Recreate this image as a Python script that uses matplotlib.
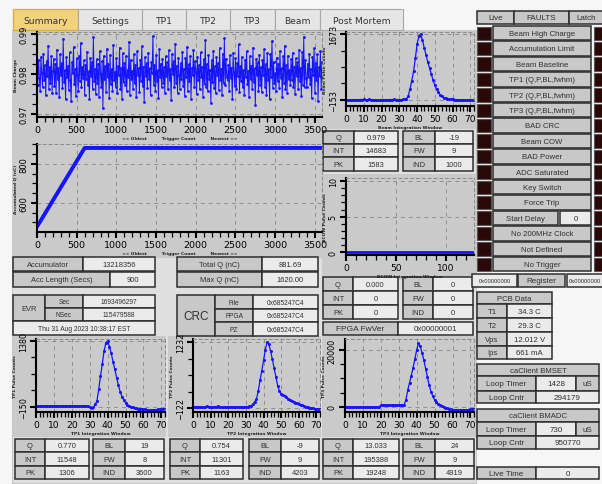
import numpy as np
import matplotlib
matplotlib.use("Agg")
import matplotlib.pyplot as plt
from matplotlib.patches import Rectangle
from matplotlib.ticker import MultipleLocator, FixedLocator

# ---------------- data ----------------
tab_labels = ["Summary", "Settings", "TP1", "TP2", "TP3", "Beam", "Post Mortem"]

beam_charge = [
    0.9812, 0.9774, 0.9836, 0.9791, 0.9758, 0.9843, 0.9802, 0.9769, 0.9851, 0.9785, 0.9822, 0.9748, 0.9833, 0.9796, 0.9871, 0.9763, 0.9818, 0.9779, 0.9845, 0.9754,
    0.9807, 0.9838, 0.9771, 0.9826, 0.9752, 0.9861, 0.9789, 0.9815, 0.9742, 0.9849, 0.9797, 0.9828, 0.9766, 0.9887, 0.9781, 0.9809, 0.9737, 0.9842, 0.9793, 0.9819,
    0.9761, 0.9854, 0.9786, 0.9733, 0.9829, 0.9803, 0.9868, 0.9776, 0.9812, 0.9745, 0.9839, 0.9798, 0.9757, 0.9846, 0.9782, 0.9878, 0.9768, 0.9817, 0.9791, 0.9834,
    0.9749, 0.9823, 0.9788, 0.9856, 0.9772, 0.9807, 0.9739, 0.9841, 0.9795, 0.9831, 0.9763, 0.9892, 0.9784, 0.9812, 0.9751, 0.9837, 0.9779, 0.9826, 0.9744, 0.9858,
    0.9801, 0.9767, 0.9832, 0.9716, 0.9845, 0.9788, 0.9819, 0.9756, 0.9863, 0.9792, 0.9825, 0.9741, 0.9848, 0.9776, 0.9813, 0.9759, 0.9873, 0.9785, 0.9806, 0.9769,
    0.9839, 0.9752, 0.9821, 0.9797, 0.9866, 0.9764, 0.9816, 0.9738, 0.9852, 0.9781, 0.9827, 0.9773, 0.9844, 0.9758, 0.9811, 0.9794, 0.9881, 0.9747, 0.9835, 0.9789,
    0.9808, 0.9762, 0.9849, 0.9777, 0.9823, 0.9743, 0.9857, 0.9799, 0.9815, 0.9756, 0.9836, 0.9784, 0.9869, 0.9771, 0.9818, 0.9731, 0.9842, 0.9796, 0.9828, 0.9765,
    0.9853, 0.9787, 0.9814, 0.9748, 0.9831, 0.9802, 0.9895, 0.9774, 0.9822, 0.9759, 0.9847, 0.9783, 0.9809, 0.9741, 0.9862, 0.9792, 0.9826, 0.9768, 0.9838, 0.9778,
    0.9817, 0.9753, 0.9844, 0.9795, 0.9829, 0.9762, 0.9859, 0.9786, 0.9812, 0.9736, 0.9851, 0.9801, 0.9833, 0.9767, 0.9876, 0.9779, 0.9821, 0.9754, 0.9841, 0.9798,
    0.9764, 0.9827, 0.9788, 0.9855, 0.9771, 0.9813, 0.9746, 0.9839, 0.9793, 0.9868, 0.9757, 0.9824, 0.9782, 0.9846, 0.9739, 0.9816, 0.9797, 0.9861, 0.9769, 0.9832,
    0.9805, 0.9751, 0.9843, 0.9786, 0.9822, 0.9763, 0.9854, 0.9792, 0.9818, 0.9744, 0.9837, 0.9776, 0.9884, 0.9768, 0.9825, 0.9757, 0.9848, 0.9789, 0.9811, 0.9728,
    0.9834, 0.9781, 0.9858, 0.9766, 0.9819, 0.9753, 0.9842, 0.9799, 0.9827, 0.9761, 0.9865, 0.9785, 0.9813, 0.9747, 0.9851, 0.9778, 0.9889, 0.9772, 0.9838, 0.9794,
    0.9786, 0.9823, 0.9759, 0.9847, 0.9791, 0.9816, 0.9738, 0.9852, 0.9804, 0.9771, 0.9839, 0.9762, 0.9828, 0.9795, 0.9874, 0.9756, 0.9819, 0.9783, 0.9843, 0.9767,
    0.9811, 0.9749, 0.9836, 0.9792, 0.9857, 0.9775, 0.9808, 0.9743, 0.9845, 0.9788, 0.9821, 0.9764, 0.9866, 0.9781, 0.9814, 0.9722, 0.9838, 0.9797, 0.9829, 0.9758,
    0.9848, 0.9773, 0.9817, 0.9755, 0.9834, 0.9799, 0.9862, 0.9769, 0.9825, 0.9747, 0.9853, 0.9786, 0.9812, 0.9737, 0.9849, 0.9794, 0.9883, 0.9765, 0.9831, 0.9777,
    0.9802, 0.9759, 0.9841, 0.9784, 0.9826, 0.9766, 0.9858, 0.9791, 0.9815, 0.9742, 0.9844, 0.9779, 0.9871, 0.9763, 0.9822, 0.9754, 0.9846, 0.9787, 0.9809, 0.9772,
    0.9837, 0.9785, 0.9853, 0.9768, 0.9818, 0.9751, 0.9839, 0.9796, 0.9829, 0.9763, 0.9861, 0.9782, 0.9816, 0.9745, 0.9856, 0.9774, 0.9893, 0.9769, 0.9835, 0.9791,
    0.9768, 0.9826, 0.9793, 0.9851, 0.9776, 0.9812, 0.9741, 0.9842, 0.9798, 0.9864, 0.9753, 0.9827, 0.9786, 0.9849, 0.9733, 0.9818, 0.9795, 0.9857, 0.9764, 0.9831,
]
trigger_step = 10

accum_trigger = [0, 600, 3600]
accum_charge = [478.0, 881.69, 881.69]

window = list(range(73))
beam_pulse = [
    -148, -146, -150, -144, -147, -141, -149, -145, -140, -143,
    -138, -146, -142, -139, -147, -144, -141, -150, -158, -156,
    -149, -147, -143, -141, -145, -140, -142, -139, -144, -141,
    -143, -146, -138, -135,
    -120, -40, 150, 382, 640, 1000, 1400, 1610, 1673, 1500,
    1290, 1100, 900, 730, 560, 390, 250, 140, 60, -10,
    -55, -88, -108, -118, -126, -131, -136, -140, -146, -143,
    -149, -152, -147, -155, -158, -152, -160, -163, -158,
]
tp1_pulse = [
    -125, -128, -122, -126, -130, -127, -124, -129, -126, -121,
    -125, -128, -131, -127, -123, -126, -129, -132, -128, -125,
    -122, -127, -130, -126, -124, -128, -125, -121, -126, -133, -145,
    -182, -160, -90, -10, 263, 560, 848, 1150, 1340, 1380,
    1250, 1090, 900, 720, 530, 350, 200, 90, 10, -60,
    -105, -130, -150, -160, -170, -178, -186, -192, -198, -204,
    -208, -212, -215, -214, -216, -214, -211, -207, -203, -198,
    -196, -194,
]
tp2_pulse = [
    -98, -102, -95, -91, -97, -104, -100, -93, -89, -95,
    -101, -106, -99, -92, -88, -94, -103, -108, -102, -96,
    -91, -97, -105, -109, -101, -94, -99, -106, -102, -95,
    -92, -98, -90, -75,
    -40, 10, 63, 230, 450, 650, 860, 1080, 1232, 1190,
    1050, 880, 700, 520, 340, 230, 175, 148, 122, 98,
    74, 52, 30, 12, -10, -22, -40, -55, -70, -82,
    -94, -102, -112, -122, -130, -138, -145, -150, -152,
]
tp3_pulse = [
    40, -30, 20, 60, -10, 30, -40, 10, 50, -20,
    0, 30, -30, 20, 40, -10, 20, -20, 10, 30,
    550, 620, 580, 610, 640, 590, 570, 620, 600, 630,
    580, 610, 650, 700,
    2500, 5800, 8500, 11000, 13800, 16860, 20000, 22440, 21300, 19000,
    16500, 13500, 10500, 7600, 5400, 3700, 2500, 1700, 1100, 650,
    250, -100, -350, -550, -700, -830, -950, -1050, -1120, -1160,
    -1180, -1170, -1160, -1120, -1050, -950, -820, -760, -720,
]
bcow_window = list(range(129))
bcow_pulse = [0] * 129

beam_stats = (["Q", "INT", "PK"], ["0.979", "14683", "1583"], ["BL", "FW", "IND"], ["-19", "9", "1000"])
bcow_stats = (["Q", "INT", "PK"], ["0.000", "0", "0"], ["BL", "FW", "IND"], ["0", "0", "0"])
tp1_stats = (["Q", "INT", "PK"], ["0.770", "11548", "1306"], ["BL", "FW", "IND"], ["19", "8", "3600"])
tp2_stats = (["Q", "INT", "PK"], ["0.754", "11301", "1163"], ["BL", "FW", "IND"], ["-9", "9", "4203"])
tp3_stats = (["Q", "INT", "PK"], ["13.033", "195388", "19248"], ["BL", "FW", "IND"], ["24", "9", "4919"])

fault_labels = ["Beam High Charge", "Accumulation Limit", "Beam Baseline",
                "TP1 (Q,P,BL,fwhm)", "TP2 (Q,P,BL,fwhm)", "TP3 (Q,P,BL,fwhm)",
                "BAD CRC", "Beam COW", "BAD Power", "ADC Saturated", "Key Switch",
                "Force Trip", "Start Delay", "No 200MHz Clock", "Not Defined", "No Trigger"]
start_delay = "0"
pcb_labels = ["T1", "T2", "Vps", "Ips"]
pcb_values = ["34.3 C", "29.3 C", "12.012 V", "661 mA"]

# ---------------- style ----------------
W, H = 602, 485
FIG_BG = "#f6f6f6"
PANEL = "#dfdfdf"
PLOT_BG = "#cacaca"
LABEL = "#c8c8c8"
VALUE = "#ebebeb"
EDGE = "#2e2e2e"
BLUE = "#1414ff"
TXT = "Liberation Sans"

fig = plt.figure(figsize=(W / 100, H / 100), dpi=100, facecolor=FIG_BG)
bg = fig.add_axes([0, 0, 1, 1])
bg.set_xlim(0, W)
bg.set_ylim(H, 0)
bg.axis("off")


def rect(x0, y0, x1, y1, fc, ec=EDGE, lw=1.1, z=1):
    bg.add_patch(Rectangle((x0, y0), x1 - x0, y1 - y0, facecolor=fc,
                           edgecolor=ec, linewidth=lw, zorder=z))


def cell(x0, y0, x1, y1, text, kind="label", fs=5.4, family=TXT, ha="center"):
    rect(x0, y0, x1, y1, LABEL if kind == "label" else VALUE)
    tx = (x0 + x1) / 2 if ha == "center" else x0 + 2
    bg.text(tx, (y0 + y1) / 2 + 0.3, text, ha=ha, va="center", fontsize=fs,
            color="#303030", family=family, zorder=3, clip_on=True)


def stats_table(cols, rows, stats):
    l1, v1, l2, v2 = stats
    a, b, c, d, e, f = cols
    for i in range(3):
        y0, y1 = rows[i], rows[i + 1]
        cell(a, y0, b, y1, l1[i], "label")
        cell(b, y0, c, y1, v1[i], "value")
        cell(d, y0, e, y1, l2[i], "label")
        cell(e, y0, f, y1, v2[i], "value")


# panels
rect(12, 31, 476, 484, PANEL, ec="#c0c0c0", lw=0.6, z=0.5)
for box in [(12, 31, 322, 259), (322, 31, 476, 130), (322, 175, 476, 281),
            (13, 337, 166, 438), (168, 337, 321, 438), (322, 337, 476, 438)]:
    rect(*box, PLOT_BG, ec="none", lw=0, z=0.6)

# tabs
tab_edges = [13, 78, 142, 186, 230, 275, 320, 403]
for i, lab in enumerate(tab_labels):
    x0, x1 = tab_edges[i], tab_edges[i + 1]
    if i == 0:
        rect(x0, 10, x1, 31, "#f2d27c", ec="#d6a94a", lw=0.9)
    else:
        rect(x0, 10, x1, 31, "#e6e6e6", ec="#a8a8a8", lw=0.8)
    bg.text((x0 + x1) / 2, 21, lab, ha="center", va="center", fontsize=6.6,
            color="#333333", family="DejaVu Sans", zorder=3)


# ---------------- plots ----------------
def make_plot(box, xlim, ylim, xmaj, xminr, yticks, yminor, xfs=6.8, yfs=6.0,
              xlabel="", ylabel=""):
    x0, y0, x1, y1 = box
    ax = fig.add_axes([x0 / W, 1 - y1 / H, (x1 - x0) / W, (y1 - y0) / H])
    ax.set_facecolor(PLOT_BG)
    ax.set_xlim(*xlim)
    ax.set_ylim(*ylim)
    ax.xaxis.set_major_locator(MultipleLocator(xmaj))
    ax.xaxis.set_minor_locator(MultipleLocator(xminr))
    ax.yaxis.set_major_locator(FixedLocator(yticks))
    ax.yaxis.set_minor_locator(FixedLocator(yminor))
    for s in ["top", "right"]:
        ax.spines[s].set_linestyle((0, (3, 3)))
        ax.spines[s].set_color("#8a8a8a")
        ax.spines[s].set_linewidth(0.7)
    for s in ["left", "bottom"]:
        ax.spines[s].set_color("black")
        ax.spines[s].set_linewidth(1.5)
    ax.grid(True, which="major", linestyle=(0, (4, 4)), color="#8e8e8e", linewidth=0.7)
    ax.tick_params(which="major", direction="out", length=4.5, width=1.5, colors="black")
    ax.tick_params(which="minor", direction="out", length=3.5, width=0.9, colors="black")
    ax.tick_params(axis="x", labelsize=xfs, pad=1.5)
    ax.tick_params(axis="y", labelsize=yfs, labelrotation=90, pad=1.5)
    for t in ax.get_yticklabels():
        t.set_verticalalignment("center")
    ax.set_xlabel(xlabel, fontsize=3.2, labelpad=1, fontweight="bold", color="#222222")
    ax.set_ylabel(ylabel, fontsize=3.2, labelpad=1.5, fontweight="bold", color="#222222")
    ax.set_axisbelow(True)
    return ax


trig = np.arange(len(beam_charge)) * trigger_step
ax = make_plot((37, 33, 322, 118), (0, 3590), (0.9693, 0.9905), 500, 100,
               [0.97, 0.98, 0.99], list(np.arange(0.9700, 0.9905, 0.0025)),
               xlabel="<< Oldest          Trigger Count          Newest >>",
               ylabel="Beam Charge")
ax.plot(trig, beam_charge, color=BLUE, lw=0.7, marker="o", ms=2.0, mew=0)

ax = make_plot((37, 145, 322, 233), (0, 3590), (451, 902), 500, 100,
               [600, 800], list(range(500, 901, 50)),
               xlabel="<< Oldest          Trigger Count          Newest >>",
               ylabel="Accumulated Q (nC)")
ax.plot(accum_trigger, accum_charge, color=BLUE, lw=2.8, solid_capstyle="butt")

ax = make_plot((346, 33, 474, 107), (0, 72), (-320, 1730), 10, 2,
               [-153, 1673], [-153, 303.5, 760, 1216.5, 1673], xfs=6.6, yfs=5.8,
               xlabel="Beam Integration Window", ylabel="Beam Pulse Counts")
ax.plot(window, beam_pulse, color=BLUE, lw=0.9, marker="o", ms=2.2, mew=0)

ax = make_plot((346, 179, 474, 256), (0, 128), (-0.35, 10.4), 50, 10,
               [0, 5, 10], list(range(0, 11)), xfs=6.6, yfs=5.8,
               xlabel="BCOW Integration Window", ylabel="BCOW Pulse Counts")
ax.plot(bcow_window, bcow_pulse, color=BLUE, lw=2.0)

ax = make_plot((36, 340, 165, 413), (0, 72), (-266, 1426), 10, 2,
               [-150, 1380], [-150, 232.5, 615, 997.5, 1380], xfs=6.6, yfs=5.8,
               xlabel="TP1 Integration Window", ylabel="TP1 Pulse Counts")
ax.plot(window, tp1_pulse, color=BLUE, lw=0.9, marker="o", ms=2.2, mew=0)

ax = make_plot((193, 340, 320, 413), (0, 72), (-204, 1300), 10, 2,
               [-122, 1232], [-122, 216.5, 555, 893.5, 1232], xfs=6.6, yfs=5.8,
               xlabel="TP2 Integration Window", ylabel="TP2 Pulse Counts")
ax.plot(window, tp2_pulse, color=BLUE, lw=0.9, marker="o", ms=2.2, mew=0)

ax = make_plot((345, 340, 474, 413), (0, 72), (-1800, 23900), 10, 2,
               [0, 20000], [0, 5000, 10000, 15000, 20000], xfs=6.6, yfs=5.8,
               xlabel="TP3 Integration Window", ylabel="TP3 Pulse Counts")
ax.plot(window, tp3_pulse, color=BLUE, lw=0.9, marker="o", ms=2.2, mew=0)

# ---------------- tables ----------------
stats_table((323, 354, 398, 403, 435, 473), (132, 145, 158, 172), beam_stats)
stats_table((323, 353, 398, 403, 433, 473), (278, 292, 306, 320), bcow_stats)
cell(323, 323, 398, 336, "FPGA FwVer", "label", fs=6)
cell(398, 323, 473, 336, "0x00000001", "value", fs=5.8)
stats_table((15, 45, 89, 93, 125, 164), (440, 453, 467, 480), tp1_stats)
stats_table((170, 200, 243, 249, 281, 319), (440, 453, 467, 480), tp2_stats)
stats_table((323, 353, 399, 403, 435, 474), (440, 453, 467, 480), tp3_stats)

cell(13, 258, 83, 272, "Accumulator")
cell(83, 258, 155, 272, "13218356", "value")
cell(13, 273, 110, 288, "Acc Length (Secs)")
cell(110, 273, 155, 288, "900", "value")
cell(177, 258, 262, 272, "Total Q (nC)")
cell(262, 258, 318, 272, "881.69", "value")
cell(177, 273, 262, 288, "Max Q (nC)")
cell(262, 273, 318, 288, "1620.00", "value")

cell(13, 296, 45, 322, "EVR")
cell(45, 296, 83, 309, "Sec", fs=4.8)
cell(83, 296, 155, 309, "1693496297", "value", fs=4.8)
cell(45, 309, 83, 322, "NSec", fs=4.8)
cell(83, 309, 155, 322, "115479588", "value", fs=4.8)
cell(13, 322, 155, 336, "Thu 31 Aug 2023 10:38:17 EST", "value", fs=4.8)

cell(177, 296, 215, 337, "CRC", fs=8.5)
crc_rows = [(296, 309.5), (309.5, 323), (323, 337)]
for (ya, yb), lab in zip(crc_rows, ["File", "FPGA", "PZ"]):
    cell(215, ya, 253, yb, lab, fs=4.8)
    cell(253, ya, 318, yb, "0x685247C4", "value", fs=4.8)

# right side panel
cell(477, 12, 514, 25, "Live", fs=5.8)
cell(514, 12, 569, 25, "FAULTS", fs=5.8)
cell(569, 12, 604, 25, "Latch", fs=5.8)
LED = "#2a0808"
row_h = 15.4
for i, lab in enumerate(fault_labels):
    y0 = 27 + i * row_h
    y1 = y0 + row_h - 1
    rect(477, y0 + 0.5, 491, y1 - 0.5, LED, ec="#555555", lw=0.8)
    rect(594, y0 + 0.5, 606, y1 - 0.5, LED, ec="#555555", lw=0.8)
    if lab == "Start Delay":
        cell(493, y0, 558, y1, lab, fs=5.6)
        cell(560, y0, 591, y1, start_delay, "value", fs=5.6)
    else:
        cell(493, y0, 591, y1, lab, fs=5.6)
cell(472, 275, 517, 288, "0x00000000", "value", fs=4.2)
cell(518, 275, 565, 288, "Register", fs=5.8)
cell(567, 275, 606, 288, "0x00000000", "value", fs=4.2, ha="left")

cell(477, 293, 552, 305, "PCB Data", fs=5.6)
pcb_rows = [305, 319, 333, 347, 360]
for i in range(4):
    cell(477, pcb_rows[i], 507, pcb_rows[i + 1], pcb_labels[i], fs=5.6)
    cell(507, pcb_rows[i], 552, pcb_rows[i + 1], pcb_values[i], "value", fs=5.6)

cell(477, 365, 599, 377, "caClient BMSET", fs=5.6)
cell(477, 377, 536, 392, "Loop Timer", fs=5.8)
cell(536, 377, 576, 392, "1428", "value", fs=5.8)
cell(576, 377, 599, 392, "uS", fs=5.8)
cell(477, 392, 536, 404, "Loop Cntr", fs=5.8)
cell(536, 392, 599, 404, "294179", "value", fs=5.8)

cell(477, 410, 599, 423, "caClient BMADC", fs=5.6)
cell(477, 423, 536, 437, "Loop Timer", fs=5.8)
cell(536, 423, 576, 437, "730", "value", fs=5.8)
cell(576, 423, 599, 437, "uS", fs=5.8)
cell(477, 437, 536, 450, "Loop Cntr", fs=5.8)
cell(536, 437, 599, 450, "950770", "value", fs=5.8)

cell(477, 468, 536, 480, "Live Time", fs=5.8)
cell(536, 468, 599, 480, "0", "value", fs=5.8)

fig.savefig("out.png", dpi=100, facecolor=FIG_BG)
